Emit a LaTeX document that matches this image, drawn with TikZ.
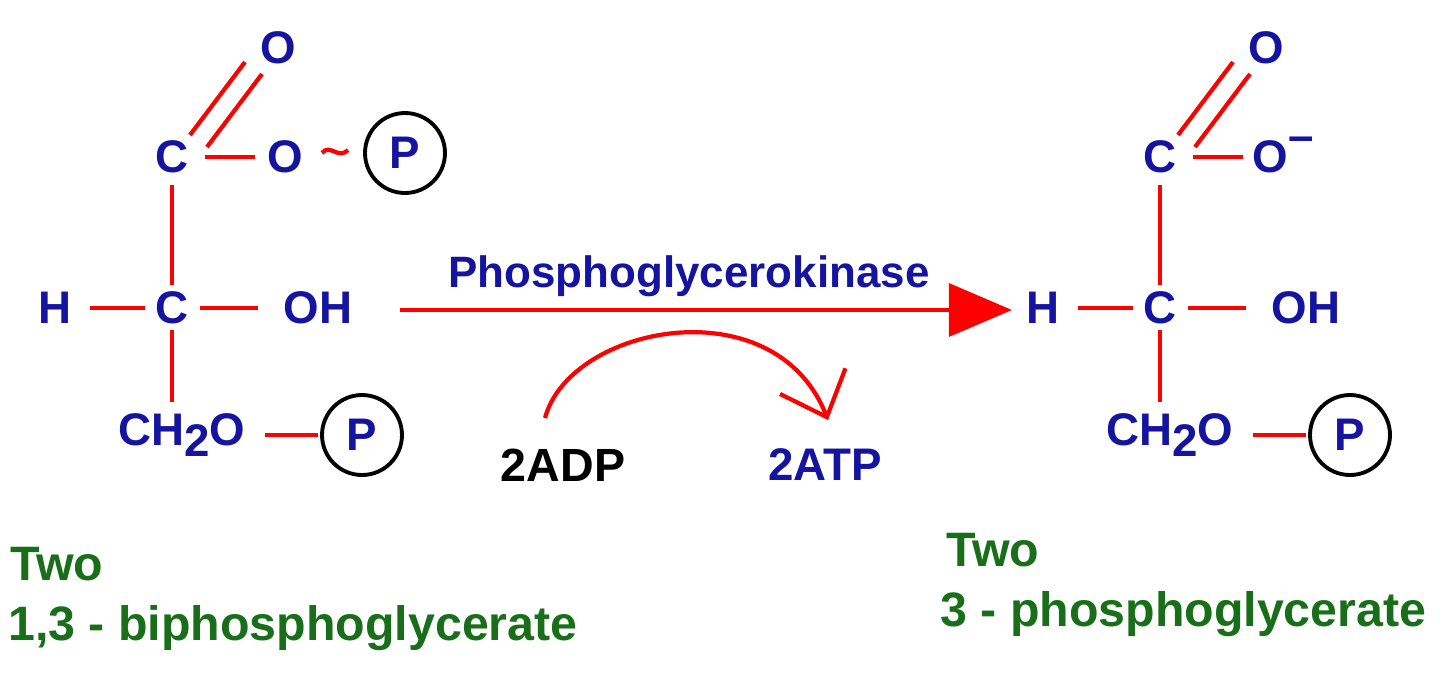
\documentclass[tikz,border=0pt]{standalone}
\usepackage{fontspec}
\setmainfont{Liberation Sans}
\usetikzlibrary{arrows.meta}
\definecolor{mblue}{RGB}{20,20,160}
\definecolor{mgreen}{RGB}{25,110,25}
\begin{document}
\begin{tikzpicture}[x=0.02cm,y=-0.02cm,
 atm/.style={text=mblue,font=\bfseries\fontsize{26}{28}\selectfont,inner sep=0pt},
 gt/.style={text=mgreen,font=\bfseries\fontsize{27.5}{30}\selectfont,inner sep=0pt,anchor=base west},
 bd/.style={red,line width=2.4pt},
 pc/.style={circle,draw=black,line width=2.2pt,minimum size=1.6cm,text=mblue,font=\bfseries\fontsize{26}{28}\selectfont,inner sep=0pt}]
\useasboundingbox (0,0) rectangle (1440,674);
% left molecule
\node[atm] (lO1) at (278,48) {O};
\node[atm] (lC1) at (172,157) {C};
\node[atm] (lO2) at (285,157) {O};
\node[pc] (lP1) at (405,153) {P};
\node[atm] (lH) at (55,308) {H};
\node[atm] (lC2) at (172,308) {C};
\node[atm] (lOH) at (318,308) {OH};
\node[atm] (lCH) at (182,435) {CH\raisebox{-0.45ex}{2}O};
\node[pc] (lP2) at (362,435) {P};
\draw[bd] (190,135) -- (245,62);
\draw[bd] (207,147) -- (262,74);
\draw[bd] (205,157) -- (255,157);
\draw[bd] (322,153) .. controls (330,143) and (338,160) .. (348,150);
\draw[bd] (172,185) -- (172,285);
\draw[bd] (90,308) -- (145,308);
\draw[bd] (200,308) -- (258,308);
\draw[bd] (172,330) -- (172,402);
\draw[bd] (265,435) -- (318,435);
% right molecule
\node[atm] (rO1) at (1266,48) {O};
\node[atm] (rC1) at (1160,157) {C};
\node[atm] (rO2) at (1283,155) {O\raisebox{0.9ex}{–}};
\node[atm] (rH) at (1043,308) {H};
\node[atm] (rC2) at (1160,308) {C};
\node[atm] (rOH) at (1306,308) {OH};
\node[atm] (rCH) at (1170,435) {CH\raisebox{-0.45ex}{2}O};
\node[pc] (rP2) at (1350,435) {P};
\draw[bd] (1178,135) -- (1233,62);
\draw[bd] (1195,147) -- (1250,74);
\draw[bd] (1193,157) -- (1243,157);
\draw[bd] (1160,185) -- (1160,285);
\draw[bd] (1078,308) -- (1133,308);
\draw[bd] (1188,308) -- (1246,308);
\draw[bd] (1160,330) -- (1160,402);
\draw[bd] (1253,435) -- (1306,435);
% reaction
\coordinate (a1) at (400,310);
\coordinate (a2) at (1012,310);
\draw[red,line width=2.8pt,-{Triangle[length=36,width=30]}] (a1) -- (a2);
\node[text=mblue,font=\bfseries\fontsize{25}{27}\selectfont] (enz) at (689,276) {Phosphoglycerokinase};
\node[font=\bfseries\fontsize{26.5}{28}\selectfont,inner sep=0pt] (adp) at (563,465) {2ADP};
\node[atm] (atp) at (825,465) {2ATP};
\draw[red,line width=2.4pt,-{Straight Barb[length=22,width=40,line width=2.4pt]}] (545,418) .. controls (570,325) and (775,285) .. (828,420);
% names
\node[gt] (n1) at (10,580) {Two};
\node[gt] (n2) at (8,640) {1,3 - biphosphoglycerate};
\node[gt] (n3) at (946,566) {Two};
\node[gt] (n4) at (940,626) {3 - phosphoglycerate};
\end{tikzpicture}
\end{document}
